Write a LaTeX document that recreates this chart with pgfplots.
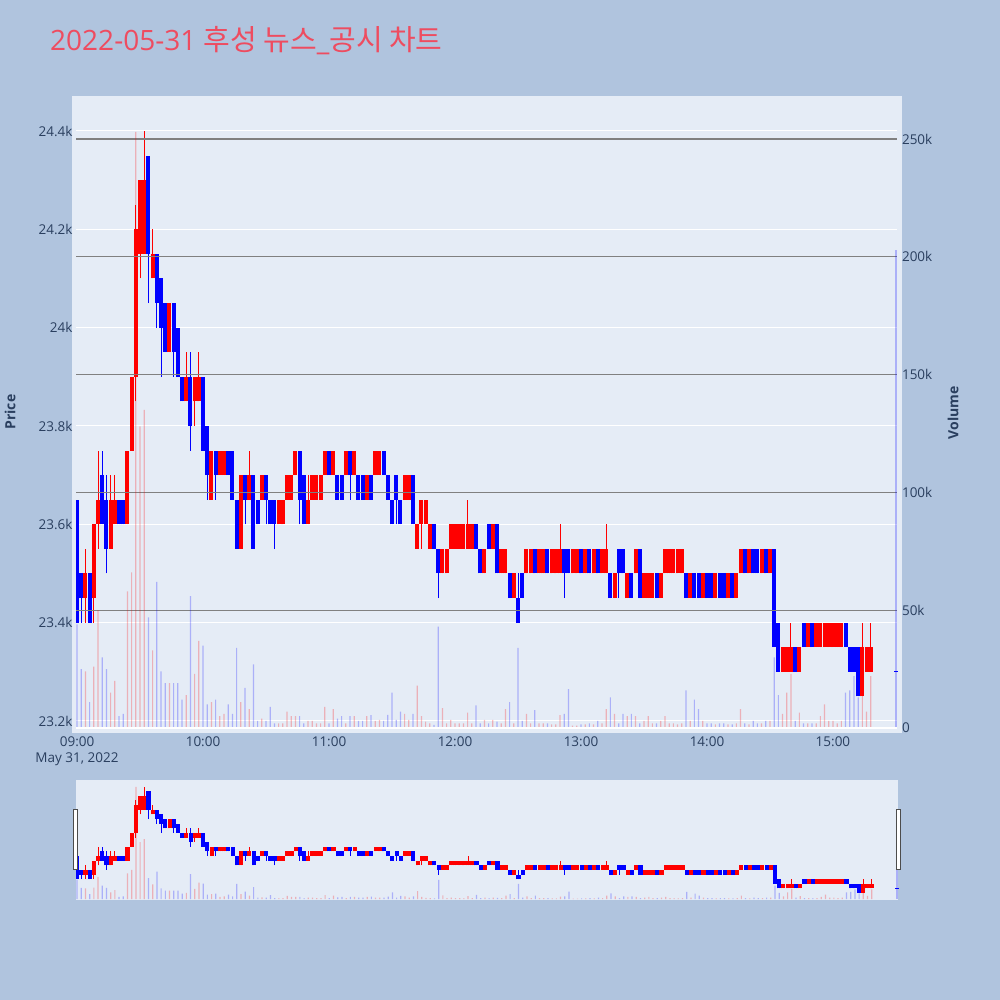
\documentclass[border=0pt]{standalone}
\usepackage{fontspec}
\setmainfont{Open Sans}
\newfontfamily\kr{Noto Sans CJK KR}
\usepackage{pgfplots}
\usepackage{pgfplotstable}
\pgfplotsset{compat=1.18}

\definecolor{pagebg}{RGB}{176,196,222}
\definecolor{plotbg}{RGB}{229,236,246}
\definecolor{txt}{RGB}{42,63,95}
\definecolor{ttl}{RGB}{238,76,96}
\definecolor{cred}{RGB}{255,0,0}
\definecolor{cblue}{RGB}{0,0,255}
\definecolor{vgrid}{RGB}{128,128,128}
\newcommand\tickfont{\fontsize{13.5}{16}\selectfont}

% 2-minute candles, t = minutes after 09:00, volume in thousands
% rising candles
\pgfplotstableread{
t o h l c v
4 23450 23550 23400 23500 24
8 23450 23600 23400 23600 26
10 23600 23750 23550 23650 50
16 23550 23700 23550 23650 15
18 23600 23700 23600 23650 20
24 23600 23750 23600 23750 58
26 23750 23900 23750 23900 66
28 23900 24250 23850 24200 253
30 24150 24300 24100 24300 128
32 24150 24400 24150 24300 135
36 24100 24200 24100 24150 33
44 23950 24050 23950 24050 19
52 23850 23950 23850 23900 14
56 23850 23900 23800 23900 23
58 23850 23950 23850 23900 37
64 23650 23750 23650 23750 11
68 23700 23750 23700 23750 5
70 23700 23750 23700 23750 6
78 23550 23700 23550 23700 11
82 23650 23750 23650 23700 8
88 23650 23700 23650 23700 4
96 23600 23650 23600 23650 2
98 23600 23650 23600 23650 2
100 23650 23700 23650 23700 7
102 23650 23700 23650 23700 5
104 23700 23750 23700 23750 5
110 23600 23700 23600 23650 3
112 23650 23700 23650 23700 3
114 23650 23700 23650 23700 2
116 23650 23700 23650 23700 2
118 23700 23750 23700 23750 9
122 23700 23750 23700 23750 8
128 23700 23750 23700 23750 2
132 23700 23750 23700 23750 5
138 23650 23700 23650 23700 5
142 23700 23750 23700 23750 3
144 23700 23750 23700 23750 3.4
156 23650 23700 23650 23700 6
158 23650 23700 23650 23700 3.4
162 23550 23600 23550 23600 18
164 23600 23650 23550 23650 5
166 23600 23650 23600 23650 2.7
168 23550 23600 23550 23600 2
174 23500 23550 23500 23550 8.4
176 23500 23550 23500 23550 2
178 23550 23600 23550 23600 3.4
180 23550 23600 23550 23600 2
182 23550 23600 23550 23600 2
184 23550 23600 23550 23600 2
186 23550 23650 23550 23600 6.5
188 23550 23600 23550 23600 2
194 23500 23550 23500 23550 3.4
198 23550 23600 23550 23600 3.4
202 23500 23550 23500 23550 2
204 23500 23550 23500 23550 8
208 23450 23500 23450 23500 2
214 23500 23550 23500 23550 6
216 23500 23550 23500 23550 2
220 23500 23550 23500 23550 2
222 23500 23550 23500 23550 2
226 23500 23550 23500 23550 1.5
228 23500 23550 23500 23550 1.5
230 23500 23600 23500 23550 5.5
236 23500 23550 23500 23550 1
238 23500 23550 23500 23550 1
242 23500 23550 23500 23550 1.5
246 23500 23550 23500 23550 1.5
250 23500 23550 23500 23550 2
252 23500 23600 23500 23550 8
256 23450 23500 23450 23500 6
262 23450 23500 23450 23500 5
266 23500 23550 23500 23550 5
270 23450 23500 23450 23500 3
272 23450 23500 23450 23500 5
274 23450 23500 23450 23500 2
278 23450 23500 23450 23500 3
280 23500 23550 23500 23550 5
282 23500 23550 23500 23550 2
284 23500 23550 23500 23550 2
286 23500 23550 23500 23550 1.5
288 23500 23550 23500 23550 2
292 23450 23500 23450 23500 3
298 23450 23500 23450 23500 3
304 23450 23500 23450 23500 1.5
310 23450 23500 23450 23500 1.5
314 23450 23500 23450 23500 2
316 23500 23550 23500 23550 8
320 23500 23550 23500 23550 1.5
326 23500 23550 23500 23550 2
330 23500 23550 23500 23550 3
336 23300 23350 23300 23350 6
338 23300 23350 23300 23350 15
340 23300 23400 23300 23350 23
344 23300 23350 23300 23350 6.5
348 23350 23400 23350 23400 2
352 23350 23400 23350 23400 2
354 23350 23400 23350 23400 5
356 23350 23400 23350 23400 10
358 23350 23400 23350 23400 3
360 23350 23400 23350 23400 3
362 23350 23400 23350 23400 2
364 23350 23400 23350 23400 3
374 23250 23400 23250 23350 28
376 23300 23350 23300 23350 7
378 23300 23400 23300 23350 22
}\up

% falling candles
\pgfplotstableread{
t o h l c v
0 23650 23650 23400 23400 44
2 23500 23500 23400 23450 25
6 23500 23500 23400 23400 11
12 23700 23750 23600 23600 30
14 23650 23700 23500 23550 25
20 23650 23650 23600 23600 5
22 23650 23650 23600 23600 6
34 24350 24350 24050 24150 47
38 24150 24150 24000 24050 62
40 24100 24100 23900 24000 24
42 24050 24050 23950 23950 19
46 24050 24050 23900 23950 19
48 24000 24000 23900 23900 19
50 23900 23900 23850 23850 12
54 23900 23950 23750 23800 56
60 23900 23900 23750 23750 35
62 23800 23800 23650 23700 10
66 23750 23750 23650 23700 12
72 23750 23750 23700 23700 10
74 23750 23750 23650 23650 6
76 23650 23650 23550 23550 34
80 23700 23700 23600 23650 17
84 23700 23700 23550 23550 27
86 23650 23650 23600 23600 3
90 23700 23700 23600 23650 3
92 23650 23650 23600 23600 9
94 23650 23650 23550 23600 2
106 23750 23750 23600 23650 5
108 23700 23700 23600 23600 2
120 23750 23750 23700 23700 2
124 23700 23700 23650 23650 4
126 23700 23700 23650 23650 5
130 23750 23750 23650 23700 5
134 23700 23700 23650 23650 3
136 23700 23700 23650 23650 3
140 23700 23700 23650 23650 5.5
146 23750 23750 23700 23700 3
148 23700 23700 23650 23650 5.6
150 23650 23650 23600 23600 15
152 23700 23700 23600 23650 3.4
154 23650 23650 23600 23600 7
160 23700 23700 23600 23600 6
170 23600 23600 23550 23550 1.3
172 23550 23550 23450 23500 43
190 23600 23600 23550 23550 9.6
192 23550 23550 23500 23500 2
196 23600 23600 23550 23550 2
200 23600 23600 23500 23500 2.7
206 23500 23500 23450 23450 11
210 23450 23500 23400 23400 34
212 23500 23500 23450 23450 3
218 23550 23550 23500 23500 7.6
224 23550 23550 23500 23500 2
232 23550 23550 23450 23500 6
234 23550 23550 23500 23500 16.5
240 23550 23550 23500 23500 1.5
244 23550 23550 23500 23500 2
248 23550 23550 23500 23500 3
254 23500 23500 23450 23450 13
258 23550 23550 23450 23500 2
260 23550 23550 23500 23500 6
264 23500 23500 23450 23450 6
268 23550 23550 23450 23450 2
276 23500 23500 23450 23450 2
290 23500 23500 23450 23450 16
294 23500 23500 23450 23450 12
296 23500 23500 23450 23450 8
300 23500 23500 23450 23450 2
302 23500 23500 23450 23450 2
306 23500 23500 23450 23450 2
308 23500 23500 23450 23450 2
312 23500 23500 23450 23450 1.5
318 23550 23550 23500 23500 2
322 23550 23550 23500 23500 3
324 23550 23550 23500 23500 2
328 23550 23550 23500 23500 3
332 23550 23550 23350 23350 30
334 23400 23400 23300 23300 14
342 23350 23350 23300 23300 3
346 23400 23400 23350 23350 2
350 23400 23400 23350 23350 2
366 23400 23400 23350 23350 15
368 23350 23350 23300 23300 16
370 23350 23350 23300 23300 22
372 23350 23350 23250 23250 13
}\dn

\pgfplotsset{
  chart/.style={scale only axis, anchor=south west, xmin=-0.5, xmax=390.5,
    axis line style={draw=none}, tick style={draw=none},
    scaled y ticks=false,
    ticklabel style={font=\tickfont, text=txt},
    /pgf/number format/assume math mode=true},
  bars/.style 2 args={draw=none, mark=none, error bars/.cd, y dir=plus, y explicit,
    error mark=none, error bar style={line width=#1, draw=#2}},
}

\newcommand\candles{%
  \addplot[bars={1pt}{cred}]
    table[x=t, y=l, y error expr=\thisrow{h}-\thisrow{l}] {\up};
  \addplot[bars={4.1pt}{cred}]
    table[x=t, y=o, y error expr=\thisrow{c}-\thisrow{o}] {\up};
  \addplot[bars={1pt}{cblue}]
    table[x=t, y=l, y error expr=\thisrow{h}-\thisrow{l}] {\dn};
  \addplot[bars={4.1pt}{cblue}]
    table[x=t, y=c, y error expr=\thisrow{o}-\thisrow{c}] {\dn};
  \addplot[cblue, only marks, mark=-, mark size=2pt, line width=1pt]
    coordinates {(390,23300)};
}
\newcommand\volumes{%
  \addplot[ybar, bar width=1.2pt, bar shift=0pt, draw=none, fill=cred, fill opacity=0.25]
    table[x=t, y=v] {\up};
  \addplot[ybar, bar width=1.2pt, bar shift=0pt, draw=none, fill=cblue, fill opacity=0.25]
    table[x=t, y=v] {\dn};
  \addplot[ybar, bar width=1.2pt, bar shift=0pt, draw=none, fill=cblue, fill opacity=0.25]
    coordinates {(390,203)};
}

\begin{document}
\begin{tikzpicture}[x=1pt, y=1pt]
\fill[pagebg] (0,0) rectangle (1000,1000);
\fill[plotbg] (72,267) rectangle (902,904);
\fill[plotbg] (76,100) rectangle (898,220);

% price
\begin{axis}[chart, at={(76pt,267pt)}, width=821pt, height=637pt,
    ymin=23175.6, ymax=24471.2,
    ytick={23200,23400,...,24400},
    yticklabels={23.2k,23.4k,23.6k,23.8k,24k,24.2k,24.4k},
    ymajorgrids, major grid style={white, line width=1pt},
    xtick={0,60,...,360},
    xticklabels={{09:00\\May 31, 2022},10:00,11:00,12:00,13:00,14:00,15:00},
    xticklabel style={align=center}]
\candles
\end{axis}

% volume
\begin{axis}[chart, at={(76pt,267pt)}, width=821pt, height=637pt,
    ymin=-2.12, ymax=268.25,
    ytick={0,50,...,250},
    yticklabels={0,50k,100k,150k,200k,250k},
    yticklabel pos=right, yticklabel style={xshift=1.5pt},
    ymajorgrids, major grid style={vgrid, line width=1.2pt},
    xtick=\empty]
\volumes
\draw[white, line width=2pt] (axis cs:-0.5,0) -- (axis cs:390.5,0);
\end{axis}

% range slider
\begin{axis}[chart, at={(76pt,100pt)}, width=822pt, height=120pt,
    ymin=23175.6, ymax=24471.2, xtick=\empty, ytick=\empty]
\candles
\end{axis}
\begin{axis}[chart, at={(76pt,100pt)}, width=822pt, height=120pt,
    ymin=-2.12, ymax=268.25, xtick=\empty, ytick=\empty]
\volumes
\end{axis}
\draw[fill=white, draw=black!70, line width=1pt] (73.5,130) rectangle (77.5,190);
\draw[fill=white, draw=black!70, line width=1pt] (896.5,130) rectangle (900.5,190);

\node[anchor=base west, inner sep=0pt, text=ttl, font=\fontsize{28}{32}\selectfont]
  at (50,949.3) {2022-05-31 {\kr\fontsize{29}{32}\selectfont 후성 뉴스}\_{\kr\fontsize{29}{32}\selectfont 공시 차트}};
\node[rotate=90, text=txt, font=\fontsize{14}{16}\selectfont\bfseries] at (10,588) {Price};
\node[rotate=90, text=txt, font=\fontsize{14}{16}\selectfont\bfseries] at (953,587) {Volume};
\end{tikzpicture}
\end{document}
